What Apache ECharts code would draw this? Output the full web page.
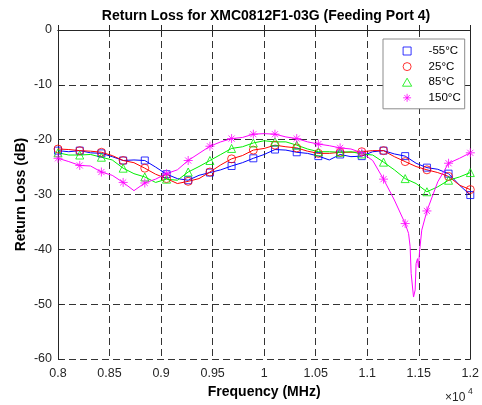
<!DOCTYPE html>
<html>
<head>
<meta charset="utf-8">
<title>Return Loss for XMC0812F1-03G</title>
<script src="https://cdn.jsdelivr.net/npm/echarts@6/dist/echarts.min.js"></script>
<style>
  html, body { margin: 0; padding: 0; background: #fff; }
  #chart { width: 482px; height: 405px; }
</style>
</head>
<body>
<div id="chart"></div>
<script>
// frequency samples in MHz (markers sit on every other sample)
var freq = [8000, 8105, 8211, 8316, 8421, 8526, 8632, 8737, 8842, 8947, 9053, 9158, 9263,
  9368, 9474, 9579, 9684, 9789, 9895, 10000, 10105, 10211, 10316, 10421, 10526, 10632,
  10737, 10842, 10947, 11053, 11158, 11263, 11368, 11474, 11579, 11684, 11789, 11895, 12000];

var lossM55 = [-22.0, -22.2, -22.0, -22.4, -22.5, -23.1, -23.8, -23.7, -23.8, -25.0, -26.3,
  -27.1, -27.4, -26.5, -26.0, -25.5, -24.8, -24.2, -23.4, -22.7, -21.8, -21.9, -22.3, -22.5,
  -23.0, -23.7, -22.7, -23.1, -23.0, -22.2, -22.0, -22.6, -23.0, -24.3, -25.1, -25.4, -26.2,
  -28.3, -30.1];
var loss25 = [-21.7, -21.8, -22.0, -22.1, -22.3, -22.9, -23.8, -24.2, -25.2, -26.3, -27.1,
  -28.0, -27.6, -27.1, -25.9, -24.6, -23.5, -22.9, -21.9, -21.6, -21.0, -21.3, -21.5, -22.1,
  -22.5, -22.5, -22.3, -22.3, -22.2, -22.0, -22.0, -23.1, -24.0, -24.9, -25.5, -26.0, -26.7,
  -28.3, -29.1];
var loss85 = [-22.4, -22.8, -22.8, -22.7, -23.2, -23.7, -25.2, -26.2, -26.8, -27.8, -27.2,
  -27.4, -25.9, -24.9, -23.8, -22.7, -21.6, -21.3, -20.6, -20.2, -20.4, -20.4, -21.0, -21.7,
  -22.2, -22.2, -22.3, -22.2, -22.6, -22.8, -24.1, -25.5, -27.1, -28.0, -29.5, -28.6, -27.4,
  -26.8, -26.0];
var loss150 = [-23.4, -24.0, -24.7, -24.8, -25.9, -26.5, -27.8, -29.3, -27.9, -27.2, -26.2,
  -25.5, -23.8, -22.5, -21.2, -20.4, -19.8, -19.6, -19.0, -18.9, -19.0, -19.5, -19.8, -20.4,
  -20.8, -21.1, -21.5, -21.7, -22.4, -23.8, -27.2, -31.0, -35.3, -42.6, -33.0, -27.7, -24.3,
  -23.4, -22.4];

// extra samples inside the 150°C notch
var dipFreq = [11401, 11416, 11426, 11449, 11465, 11488, 11497, 11507, 11529];
var dipLoss = [-37.1, -39.5, -44.4, -48.7, -47.4, -41.7, -43.3, -40.5, -36.5];

var seriesNames = ['-55°C', '25°C', '85°C', '150°C'];

var colors = ['#0000ff', '#ff0000', '#00ee00', '#ff00ff'];
var symbols = [
  'path://M0,0L10,0L10,10L0,10Z',
  'circle',
  'path://M5,0L10,8.7L0,8.7Z',
  'path://M5,0L5,10M0,5L10,5M1.6,1.6L8.4,8.4M1.6,8.4L8.4,1.6'
];
var symbolSizes = [7, 8, 8, 9];

function pairs(xs, ys) {
  return xs.map(function (x, i) { return [x, ys[i]]; });
}

var lineData = [
  pairs(freq, lossM55),
  pairs(freq, loss25),
  pairs(freq, loss85),
  pairs(freq, loss150).concat(pairs(dipFreq, dipLoss)).sort(function (a, b) { return a[0] - b[0]; })
];
var allLoss = [lossM55, loss25, loss85, loss150];

var series = [];
for (var s = 0; s < 4; s++) {
  series.push({
    name: seriesNames[s] + ' line',
    type: 'line',
    data: lineData[s],
    symbol: 'none',
    lineStyle: { color: colors[s], width: 1 },
    z: 2
  });
}
for (var s2 = 0; s2 < 4; s2++) {
  series.push({
    name: seriesNames[s2],
    type: 'scatter',
    data: pairs(freq, allLoss[s2]).filter(function (p, i) { return i % 2 === 0; }),
    symbol: symbols[s2],
    symbolSize: symbolSizes[s2],
    itemStyle: { color: 'rgba(0,0,0,0)', borderColor: colors[s2], borderWidth: 1 },
    z: 3
  });
}

var axisColor = '#262626';
var dashed = { show: true, lineStyle: { color: '#333', type: [7, 4], width: 1 } };
var font = 'Liberation Sans, Arial, Helvetica, sans-serif';

var chart = echarts.init(document.getElementById('chart'));
chart.setOption({
  animation: false,
  textStyle: { fontFamily: font },
  title: {
    text: 'Return Loss for XMC0812F1-03G (Feeding Port 4)',
    left: 266, top: 9, textAlign: 'center', padding: 0,
    textStyle: { fontSize: 14, fontWeight: 'bold', color: '#000', fontFamily: font }
  },
  grid: { left: 58, right: 8, top: 30, bottom: 46 },
  legend: {
    orient: 'vertical', left: 383, top: 39,
    padding: [6, 4, 5, 19],
    itemWidth: 33, itemHeight: 8, itemGap: 3.6,
    symbolKeepAspect: true,
    backgroundColor: '#fff', borderColor: '#8c8c8c', borderWidth: 1, borderRadius: 0,
    selectedMode: false,
    textStyle: { fontSize: 11.5, color: '#000', fontFamily: font },
    data: seriesNames.map(function (n, i) {
      return {
        name: n, icon: symbols[i],
        itemStyle: { color: 'rgba(0,0,0,0)', borderColor: colors[i], borderWidth: 1 }
      };
    })
  },
  xAxis: [{
    type: 'value', position: 'bottom', min: 8000, max: 12000, interval: 500,
    axisLine: { show: true, lineStyle: { color: axisColor } },
    axisTick: { show: true, inside: true, length: 5, lineStyle: { color: axisColor } },
    axisLabel: {
      fontSize: 12.5, color: axisColor, margin: 8,
      formatter: function (v) { return String(+(v / 10000).toFixed(2)); }
    },
    splitLine: dashed,
    name: 'Frequency (MHz)', nameLocation: 'middle', nameGap: 26, nameMoveOverlap: false,
    nameTextStyle: { fontSize: 14, fontWeight: 'bold', color: '#000' }
  }, {
    type: 'value', position: 'top', min: 8000, max: 12000, interval: 500,
    axisLine: { show: true, lineStyle: { color: axisColor } },
    axisTick: { show: true, inside: true, length: 5, lineStyle: { color: axisColor } },
    axisLabel: { show: false }, splitLine: { show: false }
  }],
  yAxis: [{
    type: 'value', position: 'left', min: -60, max: 0, interval: 10,
    axisLine: { show: true, lineStyle: { color: axisColor } },
    axisTick: { show: true, inside: true, length: 5, lineStyle: { color: axisColor } },
    axisLabel: { fontSize: 12.5, color: axisColor, margin: 6 },
    splitLine: dashed,
    name: 'Return Loss (dB)', nameLocation: 'middle', nameGap: 30, nameMoveOverlap: false,
    nameTextStyle: { fontSize: 14, fontWeight: 'bold', color: '#000' }
  }, {
    type: 'value', position: 'right', min: -60, max: 0, interval: 10,
    axisLine: { show: true, lineStyle: { color: axisColor } },
    axisTick: { show: true, inside: true, length: 5, lineStyle: { color: axisColor } },
    axisLabel: { show: false }, splitLine: { show: false }
  }],
  graphic: [
    { type: 'text', left: 445, top: 392, style: { text: '×10', fontSize: 12, fill: axisColor, fontFamily: font } },
    { type: 'text', left: 468, top: 387, style: { text: '4', fontSize: 8.5, fill: axisColor, fontFamily: font } }
  ],
  series: series
});
</script>
</body>
</html>
